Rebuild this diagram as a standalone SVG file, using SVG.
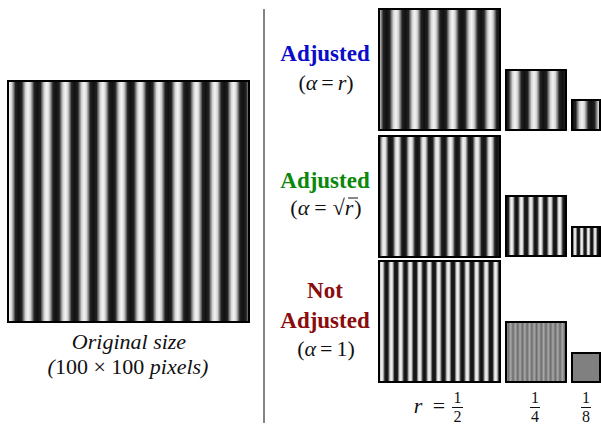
<svg xmlns="http://www.w3.org/2000/svg" xmlns:xlink="http://www.w3.org/1999/xlink" width="601" height="427" viewBox="0 0 601 427">
<style>
text{font-family:'Liberation Serif','Times New Roman','DejaVu Serif',serif;fill:#111;}
.lab{font-size:22px;text-anchor:middle;}
.hd{font-size:23px;font-weight:bold;text-anchor:middle;}
.it{font-style:italic;}
.fr{font-size:16px;text-anchor:middle;}
.frame{fill:none;stroke:#000;stroke-width:2;}
.bar{stroke:#111;stroke-width:1;}
</style>
<defs>
<linearGradient id="g" spreadMethod="repeat" gradientUnits="userSpaceOnUse" x1="0" y1="0" x2="10" y2="0">
<stop offset="0" stop-color="#f4f4f4"/>
<stop offset="0.13" stop-color="#d4d4d4"/>
<stop offset="0.24" stop-color="#7a7a7a"/>
<stop offset="0.33" stop-color="#222"/>
<stop offset="0.5" stop-color="#111"/>
<stop offset="0.67" stop-color="#222"/>
<stop offset="0.76" stop-color="#7a7a7a"/>
<stop offset="0.87" stop-color="#d4d4d4"/>
<stop offset="1" stop-color="#f4f4f4"/>
</linearGradient>
<linearGradient id="gBig" href="#g" xlink:href="#g" spreadMethod="repeat" gradientUnits="userSpaceOnUse" x1="9.3" y1="0" x2="28" y2="0"/>
<linearGradient id="g1a" href="#g" xlink:href="#g" spreadMethod="repeat" gradientUnits="userSpaceOnUse" x1="377" y1="0" x2="395.9" y2="0"/>
<linearGradient id="g1b" href="#g" xlink:href="#g" spreadMethod="repeat" gradientUnits="userSpaceOnUse" x1="515" y1="0" x2="534" y2="0"/>
<linearGradient id="g1c" href="#g" xlink:href="#g" spreadMethod="repeat" gradientUnits="userSpaceOnUse" x1="582" y1="0" x2="601" y2="0"/>
<linearGradient id="g2a" href="#g" xlink:href="#g" spreadMethod="repeat" gradientUnits="userSpaceOnUse" x1="384" y1="0" x2="397.3" y2="0"/>
<linearGradient id="g2b" href="#g" xlink:href="#g" spreadMethod="repeat" gradientUnits="userSpaceOnUse" x1="511.7" y1="0" x2="521.3" y2="0"/>
<linearGradient id="g2c" href="#g" xlink:href="#g" spreadMethod="repeat" gradientUnits="userSpaceOnUse" x1="575" y1="0" x2="581.7" y2="0"/>
<linearGradient id="g3a" href="#g" xlink:href="#g" spreadMethod="repeat" gradientUnits="userSpaceOnUse" x1="381.7" y1="0" x2="391.2" y2="0"/>
<linearGradient id="g3b" spreadMethod="repeat" gradientUnits="userSpaceOnUse" x1="506" y1="0" x2="510.7" y2="0">
<stop offset="0" stop-color="#a8a8a8"/>
<stop offset="0.5" stop-color="#6c6c6c"/>
<stop offset="1" stop-color="#a8a8a8"/>
</linearGradient>
</defs>

<g id="divider"><line x1="264" y1="9" x2="264" y2="423" stroke="#333" stroke-width="1.2"/></g>

<g id="original">
<rect x="8" y="81" width="241" height="241" fill="url(#gBig)"/>
<rect x="8" y="81" width="241" height="241" class="frame"/>
<text class="lab it" x="129" y="349" font-size="20">Original size</text>
<text class="lab" x="128" y="374" font-size="20"><tspan class="it">(</tspan>100 × 100 <tspan class="it">pixels)</tspan></text>
</g>

<g id="row-adjusted-r">
<text class="hd" x="325" y="61" style="fill:#0b0bcc">Adjusted</text>
<text class="lab" x="326" y="90">(<tspan class="it">α</tspan><tspan dx="4">=</tspan><tspan class="it" dx="4">r</tspan>)</text>
<rect x="379" y="9" width="121" height="121" fill="url(#g1a)"/>
<rect x="379" y="9" width="121" height="121" class="frame"/>
<rect x="506" y="70" width="60" height="60" fill="url(#g1b)"/>
<rect x="506" y="70" width="60" height="60" class="frame"/>
<rect x="572" y="100" width="28" height="30" fill="url(#g1c)"/>
<rect x="572" y="100" width="28" height="30" class="frame"/>
</g>

<g id="row-adjusted-sqrt">
<text class="hd" x="325" y="188" style="fill:#0b880b">Adjusted</text>
<text class="lab" x="326" y="215">(<tspan class="it">α</tspan><tspan dx="5">=</tspan><tspan dx="6">√</tspan><tspan class="it">r</tspan><tspan dx="1">)</tspan></text>
<line x1="348" y1="198" x2="358" y2="198" class="bar"/>
<rect x="379" y="136" width="121" height="121" fill="url(#g2a)"/>
<rect x="379" y="136" width="121" height="121" class="frame"/>
<rect x="506" y="196" width="60" height="60" fill="url(#g2b)"/>
<rect x="506" y="196" width="60" height="60" class="frame"/>
<rect x="572" y="227" width="28" height="29" fill="url(#g2c)"/>
<rect x="572" y="227" width="28" height="29" class="frame"/>
</g>

<g id="row-not-adjusted">
<text class="hd" x="325" y="298" style="fill:#8a0c0c">Not</text>
<text class="hd" x="325" y="328" style="fill:#8a0c0c">Adjusted</text>
<text class="lab" x="326" y="356">(<tspan class="it">α</tspan><tspan dx="4">=</tspan><tspan dx="4">1)</tspan></text>
<rect x="379" y="261" width="121" height="121" fill="url(#g3a)"/>
<rect x="379" y="261" width="121" height="121" class="frame"/>
<rect x="506" y="322" width="60" height="60" fill="url(#g3b)"/>
<rect x="506" y="322" width="60" height="60" class="frame"/>
<rect x="572" y="353" width="28" height="29" fill="#808080"/>
<rect x="572" y="353" width="28" height="29" class="frame"/>
</g>

<g id="scale-labels">
<text x="418" y="413" font-size="22" text-anchor="middle" class="it">r</text>
<text x="439" y="413" font-size="22" text-anchor="middle">=</text>
<text class="fr" x="457.5" y="403">1</text>
<line x1="452" y1="407.5" x2="463" y2="407.5" class="bar"/>
<text class="fr" x="457.5" y="422">2</text>
<text class="fr" x="535" y="403">1</text>
<line x1="530" y1="407.5" x2="540" y2="407.5" class="bar"/>
<text class="fr" x="535" y="422">4</text>
<text class="fr" x="586" y="403">1</text>
<line x1="581" y1="407.5" x2="591" y2="407.5" class="bar"/>
<text class="fr" x="586" y="422">8</text>
</g>
</svg>
